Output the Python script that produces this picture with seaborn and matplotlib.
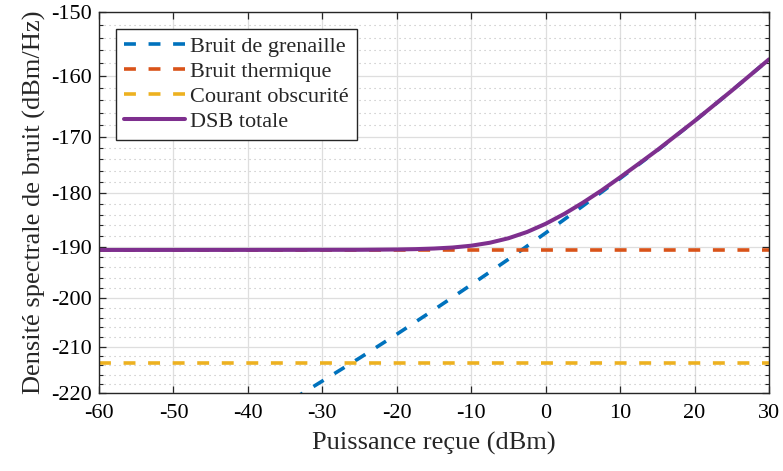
import numpy as np
import pandas as pd
import matplotlib
matplotlib.use("Agg")
import matplotlib.pyplot as plt
from matplotlib.ticker import FixedLocator
import seaborn as sns

# ---- data ----
power_shot = [-34, -30, -25, -20, -15, -10, -5, 0, 5, 10, 15, 20, 25, 30]          # dBm
shot_noise = [-221.4, -217.4, -212.4, -207.4, -202.4, -197.4, -192.4, -187.4,
              -182.4, -177.4, -172.4, -167.4, -162.4, -157.4]                          # dBm/Hz
power_flat = [-60.0, 30.0]
thermal_noise = [-190.6, -190.6]
dark_noise = [-213.5, -213.5]
power_total = [-60, -40, -25, -20, -17.5, -15, -12.5, -10, -7.5, -5, -2.5, 0, 2.5, 5,
               7.5, 10, 12.5, 15, 20, 25, 30]
total_noise = [-190.58, -190.57, -190.55, -190.49, -190.42, -190.30, -190.10, -189.76,
               -189.21, -188.38, -187.22, -185.70, -183.87, -181.79, -179.55, -177.20,
               -174.78, -172.33, -167.38, -162.40, -157.40]
labels = ["Bruit de grenaille", "Bruit thermique", "Courant obscurité", "DSB totale"]
x_ticks = [-60, -50, -40, -30, -20, -10, 0, 10, 20, 30]
y_ticks = [-220, -210, -200, -190, -180, -170, -160, -150]

# vertical axis of the reference image is not uniformly spaced (pixel rows of gridlines)
grid_rows = [393, 347, 298, 247, 193, 137, 76, 12]

sns.set_theme(style="ticks")
plt.rcParams["font.family"] = ["Liberation Serif", "DejaVu Serif"]
plt.rcParams["axes.unicode_minus"] = False

fr = [(393 - r) / (393 - 12) for r in grid_rows]
s_lo = (fr[1] - fr[0]) / 10.0
s_hi = (fr[-1] - fr[-2]) / 10.0
vals_ext = [-400.0] + y_ticks + [0.0]
fr_ext = [fr[0] - 180 * s_lo] + fr + [fr[-1] + 150 * s_hi]

def fwd(v):
    return np.interp(v, vals_ext, fr_ext)

def inv(u):
    return np.interp(u, fr_ext, vals_ext)

W, H = 783, 471
fig = plt.figure(figsize=(W / 100, H / 100), dpi=100)
ax = fig.add_axes([99 / W, 1 - 393 / H, (769 - 99) / W, (393 - 12) / H])
ax.set_yscale("function", functions=(fwd, inv))

blue, orange, yellow, purple = "#0072BD", "#D95319", "#EDB120", "#7E2F8E"
dash = (0, (3.3, 3.5))
lw_d = 2.6

sns.lineplot(x=power_shot, y=shot_noise, ax=ax, color=blue, lw=lw_d, linestyle=dash, label=labels[0])
sns.lineplot(x=power_flat, y=thermal_noise, ax=ax, color=orange, lw=lw_d, linestyle=dash, label=labels[1])
sns.lineplot(x=power_flat, y=dark_noise, ax=ax, color=yellow, lw=lw_d, linestyle=dash, label=labels[2])
sns.lineplot(x=power_total, y=total_noise, ax=ax, color=purple, lw=2.9, label=labels[3])

ax.set_xlim(-60, 30)
ax.set_ylim(-220, -150)
ax.xaxis.set_major_locator(FixedLocator(x_ticks))
ax.yaxis.set_major_locator(FixedLocator(y_ticks))
ax.yaxis.set_minor_locator(FixedLocator([v for v in range(-220, -149, 2) if v % 10 != 0]))
ax.set_xticklabels([str(v) for v in x_ticks])
ax.set_yticklabels([str(v) for v in y_ticks])

ax.grid(True, which="major", color="#dedede", lw=0.9, ls="-")
ax.grid(True, which="minor", axis="y", color="#bdbdbd", lw=0.8, ls=(0, (1, 3.5)))
ax.set_axisbelow(True)

ax.tick_params(which="both", direction="in", top=True, right=True, colors="#262626",
               labelcolor="black")
ax.tick_params(which="major", length=5, width=0.9, labelsize=16, pad=5)
ax.tick_params(which="minor", length=3, width=0.8)
ax.tick_params(axis="x", which="major", pad=8)
for sp in ax.spines.values():
    sp.set_color("#262626")
    sp.set_linewidth(1.0)

ax.set_xlabel("Puissance reçue (dBm)", fontsize=19, labelpad=6)
ax.set_ylabel("Densité spectrale de bruit (dBm/Hz)", fontsize=19, labelpad=4)

leg = ax.legend(loc="upper left", bbox_to_anchor=(0.025, 0.956), borderaxespad=0,
                fontsize=16, handlelength=2.75, handletextpad=0.25, labelspacing=0.2,
                borderpad=0.35, fancybox=False, framealpha=1, edgecolor="#262626")
leg.get_frame().set_linewidth(1.0)

fig.savefig("out.png", dpi=100)
